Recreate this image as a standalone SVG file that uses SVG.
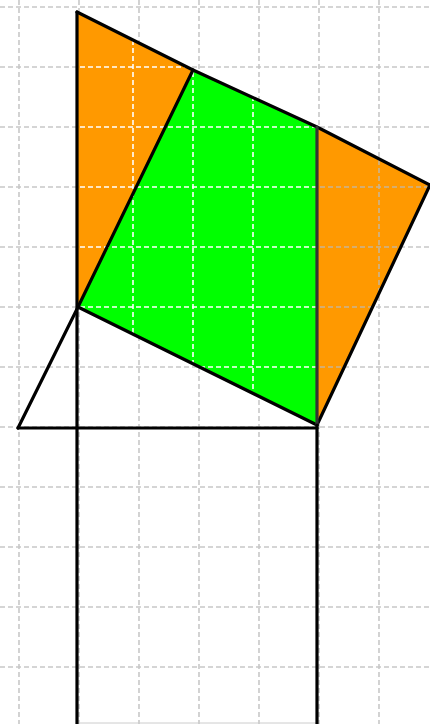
<svg xmlns="http://www.w3.org/2000/svg" width="430" height="724" viewBox="0 0 430 724">
<style>
.grid{stroke:#c8c8c8;stroke-width:1.6;stroke-dasharray:5 3;fill:none}
.wgrid{stroke:#ffffff;stroke-width:1.6;stroke-dasharray:5 3;fill:none}
.ogrid{stroke:#c9b494;stroke-width:1.6;stroke-dasharray:5 3;fill:none}
.edge{stroke:#000;stroke-width:3.2;fill:none;stroke-linejoin:round;stroke-linecap:round}
</style>
<defs>
<clipPath id="leftClip"><polygon points="77,12 193,70 317,127 317,425 78,307"/></clipPath>
<clipPath id="rightClip"><polygon points="317,127 430,185 317,425"/></clipPath>
</defs>
<rect width="430" height="724" fill="#fff"/>
<g id="grid" class="grid">
<path d="M19,0V724M79,0V724M139,0V724M199,0V724M259,0V724M319,0V724M379,0V724"/>
<path d="M0,7H430M0,67H430M0,127H430M0,187H430M0,247H430M0,307H430M0,367H430M0,427H430M0,487H430M0,547H430M0,607H430M0,667H430"/>
</g>
<g id="orange-left"><polygon points="77,12 193,70 78,307" fill="#ff9900"/></g>
<g id="green"><polygon points="193,70 317,127 317,425 78,307" fill="#00ff00"/></g>
<g id="orange-right"><polygon points="317,127 430,185 317,425" fill="#ff9900"/></g>
<g clip-path="url(#leftClip)" class="wgrid">
<path d="M133,0V724M193,0V724M253,0V724"/>
<path d="M0,67H430M0,127H430M0,187H430M0,247H430M0,307H430M0,367H430"/>
</g>
<g clip-path="url(#rightClip)" class="ogrid">
<path d="M379,0V724"/>
<path d="M0,187H430M0,247H430M0,307H430M0,367H430"/>
</g>
<line x1="80" y1="723" x2="316" y2="723" stroke="#cccccc" stroke-width="1"/>
<g id="connectors" class="edge">
<polyline points="77,12 193,70 317,127 430,185"/>
<line x1="193" y1="70" x2="78" y2="307"/>
<line x1="78" y1="307" x2="317" y2="425"/>
<line x1="430" y1="185" x2="317" y2="425"/>
<line x1="317" y1="127" x2="317" y2="425" stroke="#333"/>
<line x1="77" y1="12" x2="77" y2="724"/>
<line x1="317" y1="425" x2="317" y2="724"/>
<line x1="78" y1="307" x2="18" y2="428"/>
<line x1="18" y1="428" x2="317" y2="428"/>
</g>
</svg>
